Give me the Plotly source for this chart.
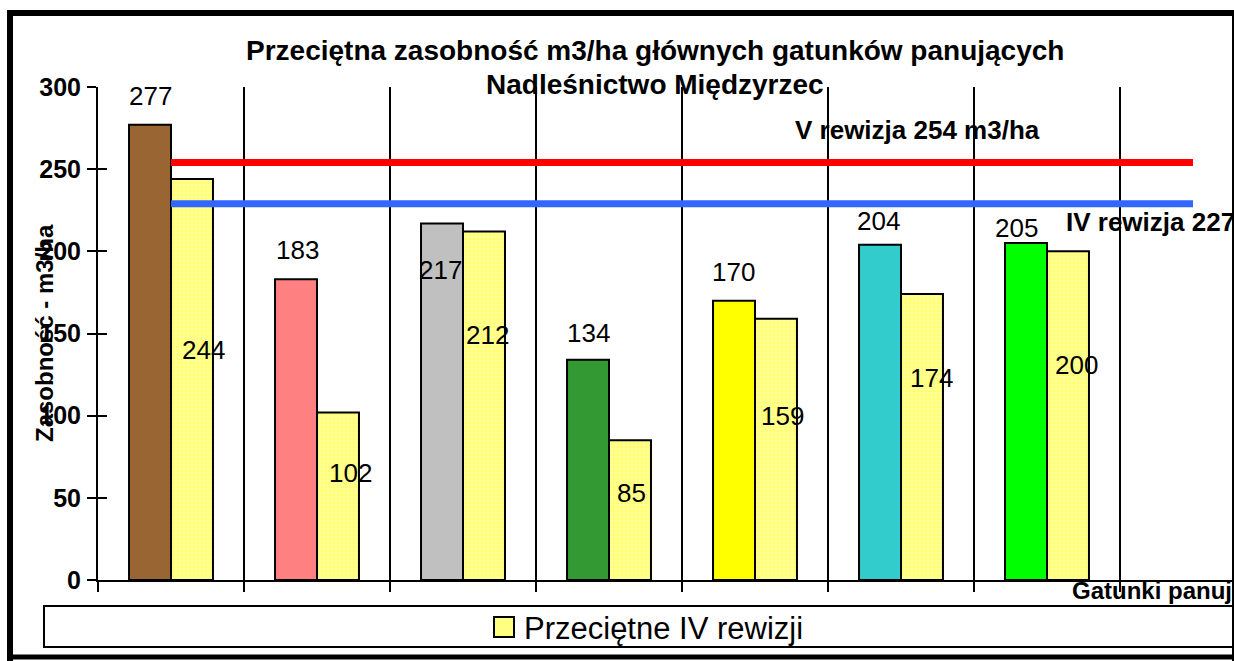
import plotly.graph_objects as go

# ---------------- data ----------------
categories = ["G1", "G2", "G3", "G4", "G5", "G6", "G7", "G8"]
v_rewizja_values = [277, 183, 217, 134, 170, 204, 205]          # current (coloured bars)
iv_rewizja_values = [244, 102, 212, 85, 159, 174, 200]          # "Przeciętne IV rewizji"
v_avg_line = [254, 254, 254, 254, 254, 254, 254, 254]           # V rewizja average
iv_avg_line = [229, 229, 229, 229, 229, 229, 229, 229]          # IV rewizja average (as drawn)
bar_colors = ["#996633", "#FF8080", "#C0C0C0", "#339933", "#FFFF00", "#33CCCC", "#00FF00"]
y_ticks = [0, 50, 100, 150, 200, 250, 300]

title_1 = "Przeciętna zasobność m3/ha głównych gatunków panujących"
title_2 = "Nadleśnictwo Międzyrzec"
y_title = "Zasobność - m3/ha"
x_title = "Gatunki panujące"
legend_name = "Przeciętne IV rewizji"
v_label = "V rewizja 254 m3/ha"
iv_label = "IV rewizja 227"

# label placement (pixel positions of label centres, as placed in the original)
lab1_px = [(150, 96), (297, 250), (440, 270), (588, 333), (733, 272), (878, 221), (1016, 228)]
lab2_px = [(203, 350), (350, 473), (487, 335), (631, 493), (782, 416), (931, 378), (1076, 365)]

# ---------------- layout geometry ----------------
W, H = 1234, 661
L, R, T, B = 98, 2, 87, 81
PW, PH = W - L - R, H - T - B


def px(x):
    return (x - L) / PW


def py(y):
    return (H - B - y) / PH


FONT = "Liberation Sans, Arial, sans-serif"

fig = go.Figure()

fig.add_trace(go.Bar(
    x=categories[:len(v_rewizja_values)], y=v_rewizja_values,
    marker=dict(color=bar_colors, line=dict(color="black", width=2)),
    showlegend=False, name="V rewizja", hoverinfo="skip",
))
fig.add_trace(go.Bar(
    x=categories[:len(iv_rewizja_values)], y=iv_rewizja_values,
    marker=dict(color="#FFFF80", line=dict(color="black", width=2),
                pattern=dict(shape="+", bgcolor="#FFFF70", fgcolor="#FFFFFF",
                             size=4, solidity=0.3)),
    showlegend=False, name=legend_name, hoverinfo="skip",
))
fig.add_trace(go.Scatter(
    x=categories, y=v_avg_line, mode="lines",
    line=dict(color="#FF0000", width=7), showlegend=False, hoverinfo="skip",
))
fig.add_trace(go.Scatter(
    x=categories, y=iv_avg_line, mode="lines",
    line=dict(color="#3366FF", width=7), showlegend=False, hoverinfo="skip",
))
# invisible helper trace so the overlaid axis (inner tick marks) is drawn
fig.add_trace(go.Scatter(
    x=categories[:1], y=y_ticks[:1], yaxis="y2", mode="markers",
    marker=dict(opacity=0), showlegend=False, hoverinfo="skip",
))

ann = []
for v, (x, y) in zip(v_rewizja_values, lab1_px):
    ann.append(dict(x=px(x), y=py(y), xref="paper", yref="paper", text=str(v),
                    showarrow=False, xanchor="center", yanchor="middle",
                    font=dict(size=26, color="black", family=FONT)))
for v, (x, y) in zip(iv_rewizja_values, lab2_px):
    ann.append(dict(x=px(x), y=py(y), xref="paper", yref="paper", text=str(v),
                    showarrow=False, xanchor="center", yanchor="middle",
                    font=dict(size=26, color="black", family=FONT)))

ann += [
    dict(x=px(655), y=py(50), xref="paper", yref="paper", text="<b>" + title_1 + "</b>",
         showarrow=False, xanchor="center", yanchor="middle",
         font=dict(size=28, color="black", family=FONT)),
    dict(x=px(655), y=py(84), xref="paper", yref="paper", text="<b>" + title_2 + "</b>",
         showarrow=False, xanchor="center", yanchor="middle",
         font=dict(size=28, color="black", family=FONT)),
    dict(x=px(793), y=py(130), xref="paper", yref="paper", text="<b>" + v_label + "</b>",
         showarrow=False, xanchor="left", yanchor="middle",
         font=dict(size=26, color="black", family=FONT)),
    dict(x=px(1064), y=py(222), xref="paper", yref="paper", text="<b>" + iv_label + "</b>",
         showarrow=False, xanchor="left", yanchor="middle",
         font=dict(size=26, color="black", family=FONT)),
    dict(x=px(1070), y=py(590), xref="paper", yref="paper", text="<b>" + x_title + "</b>",
         showarrow=False, xanchor="left", yanchor="middle",
         font=dict(size=24, color="black", family=FONT)),
    dict(x=px(44), y=py(333), xref="paper", yref="paper", text="<b>" + y_title + "</b>",
         showarrow=False, xanchor="center", yanchor="middle", textangle=-90,
         font=dict(size=24, color="black", family=FONT)),
    # legend text
    dict(x=px(522), y=py(628), xref="paper", yref="paper", text=legend_name,
         showarrow=False, xanchor="left", yanchor="middle",
         font=dict(size=31, color="black", family=FONT)),
]

shapes = [
    # legend box
    dict(type="rect", xref="paper", yref="paper", x0=px(44), x1=px(1240), y0=py(606), y1=py(647),
         line=dict(color="black", width=2), fillcolor="rgba(0,0,0,0)", layer="below"),
    # legend key
    dict(type="rect", xref="paper", yref="paper", x0=px(494), x1=px(514), y0=py(617), y1=py(637),
         line=dict(color="black", width=2), fillcolor="#FFFF80"),
    # outer frame
    dict(type="line", xref="paper", yref="paper", x0=px(7), x1=px(1240), y0=py(13), y1=py(13),
         line=dict(color="black", width=6)),
    dict(type="line", xref="paper", yref="paper", x0=px(10), x1=px(10), y0=py(10), y1=py(661),
         line=dict(color="black", width=6)),
    dict(type="line", xref="paper", yref="paper", x0=px(1233), x1=px(1233), y0=py(10), y1=py(661),
         line=dict(color="black", width=2)),
    dict(type="line", xref="paper", yref="paper", x0=px(7), x1=px(1240), y0=py(657), y1=py(657),
         line=dict(color="black", width=5)),
]

fig.update_layout(
    width=W, height=H, autosize=False,
    margin=dict(l=L, r=R, t=T, b=B),
    paper_bgcolor="white", plot_bgcolor="white",
    barmode="group", bargap=0.425, bargroupgap=0,
    font=dict(family=FONT, color="black"),
    annotations=ann, shapes=shapes,
    showlegend=False, hovermode=False,
    xaxis=dict(type="category", categoryorder="array", categoryarray=categories,
               range=[-0.5, -0.5 + PW / 146.0], showticklabels=False,
               tickson="boundaries", ticks="outside", ticklen=10, tickwidth=2, tickcolor="black",
               showgrid=True, gridcolor="black", gridwidth=2,
               showline=True, linecolor="black", linewidth=2, zeroline=False, fixedrange=True),
    yaxis=dict(range=[0, 300], tickvals=y_ticks, ticks="outside", ticklen=9, tickwidth=2,
               tickcolor="black", showline=True, linecolor="black", linewidth=2,
               showgrid=False, zeroline=False, ticklabelstandoff=1, fixedrange=True,
               tickfont=dict(size=25, color="black", family=FONT, weight="bold")),
    yaxis2=dict(range=[0, 300], tickvals=y_ticks, ticks="inside", ticklen=9, tickwidth=2,
                tickcolor="black", overlaying="y", anchor="x", side="left", fixedrange=True,
                showticklabels=False, showline=False, showgrid=False, zeroline=False),
)

fig.write_html("out.html", config={"displayModeBar": False},
               post_script="document.body.style.margin='0';document.body.style.overflow='hidden';")
